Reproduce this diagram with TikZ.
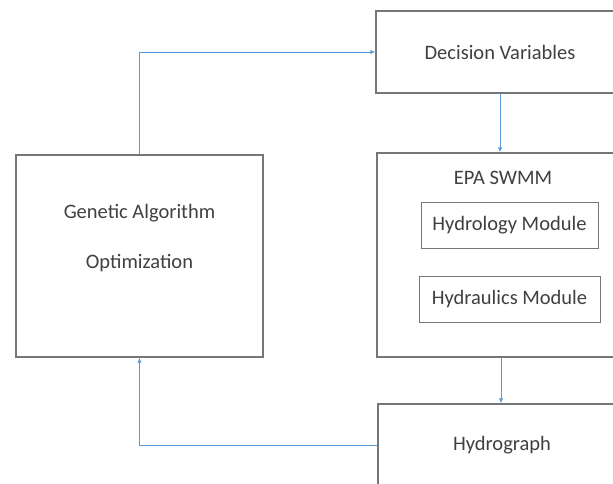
\documentclass[tikz,border=0pt]{standalone}
\usepackage{fontspec}
\setmainfont{Carlito}
\usepackage{tikz}
\usetikzlibrary{arrows.meta,positioning,calc}
\definecolor{flowblue}{RGB}{91,155,213}
\definecolor{boxgray}{RGB}{118,118,118}
\definecolor{textgray}{RGB}{64,64,64}
\tikzset{
  box/.style={draw=boxgray, line width=1.4pt, fill=white, inner sep=0pt},
  flow/.style={draw=flowblue, line width=0.9pt, -{Latex[length=5pt,width=4.5pt]}},
  every node/.style={text=textgray, font=\fontsize{20.5}{24}\selectfont}
}

\begin{document}
\begin{tikzpicture}[x=1pt, y=-1pt]
  \useasboundingbox (0,0) rectangle (613,483);
  \clip (0,0) rectangle (613,483);
  % Optimizer on the left
  \node[box, minimum width=247pt, minimum height=202pt] (ga) at (139.5,256) {};
  \node[align=center] (galabel) at (139.5,238) {Genetic Algorithm\\[26pt]Optimization};
  % Decision variables (top right)
  \node[box, minimum width=248pt, minimum height=82pt] (dv) at (500,52) {Decision Variables};
  % Simulation model with its two modules
  \node[box, minimum width=248pt, minimum height=204pt] (epa) at (501,255) {};
  \node (epalabel) at (503,178) {EPA SWMM};
  \node[box, line width=1pt, minimum width=177pt, minimum height=46pt] (hydro) at (509.5,225) {Hydrology Module};
  \node[box, line width=1pt, minimum width=181pt, minimum height=46pt] (hydra) at (509.5,299) {Hydraulics Module};
  % Output
  \node[box, minimum width=248pt, minimum height=82pt] (hg) at (502,445) {Hydrograph};
  % Loop arrows
  \draw[flow] (ga.north) |- (dv.west);
  \draw[flow] (dv.south) -- (dv.south |- epa.north);
  \draw[flow] (epa.south) -- (epa.south |- hg.north);
  \draw[flow] (hg.west) -| (ga.south);
\end{tikzpicture}
\end{document}
